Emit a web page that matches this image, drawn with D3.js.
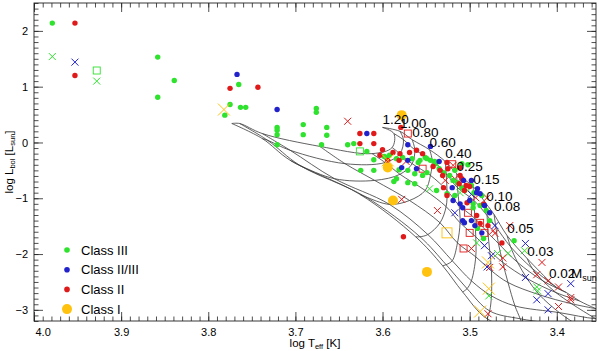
<!DOCTYPE html>
<html><head><meta charset="utf-8">
<script src="https://cdn.jsdelivr.net/npm/d3@7"></script>
<style>body{margin:0;background:#fff} text{font-family:"Liberation Sans",Arial,sans-serif;fill:#000}</style>
</head><body><svg id="c" width="600" height="351"></svg>
<script>
// ---- data ----
const xTicks = [4.0, 3.9, 3.8, 3.7, 3.6, 3.5, 3.4];
const yTicks = [-3, -2, -1, 0, 1, 2];
const massLabels = ["1.20","1.00","0.80","0.60","0.40","0.25","0.15","0.10","0.08","0.05","0.03","0.02"];
// evolutionary tracks, one row per mass, columns = isochrone ages (youngest first)
const trackTeff = [
 [3.600,3.587,3.589,3.612,3.672,3.738,3.764,3.773],
 [3.580,3.576,3.580,3.597,3.643,3.706,3.732,3.738],
 [3.566,3.563,3.566,3.580,3.609,3.655,3.695,3.706],
 [3.546,3.543,3.545,3.551,3.569,3.592,3.620,3.626],
 [3.528,3.527,3.526,3.527,3.534,3.548,3.557,3.562],
 [3.515,3.514,3.512,3.511,3.514,3.520,3.527,3.531],
 [3.496,3.495,3.494,3.493,3.493,3.498,3.503,3.508],
 [3.481,3.480,3.479,3.477,3.475,3.475,3.477,3.480],
 [3.472,3.470,3.467,3.462,3.456,3.448,3.442,3.437],
 [3.457,3.453,3.445,3.434,3.420,3.397,3.374,3.351],
 [3.434,3.428,3.416,3.401,3.383,3.355,3.328,3.305],
 [3.409,3.401,3.389,3.374,3.355,3.328,3.305,3.282]
];
const trackLum = [
 [0.27,0.16,-0.09,-0.20,-0.07,0.16,0.34,0.34],
 [0.20,0.05,-0.20,-0.36,-0.38,-0.14,0.04,0.07],
 [0.05,-0.13,-0.38,-0.57,-0.68,-0.65,-0.41,-0.32],
 [-0.13,-0.32,-0.59,-0.86,-1.04,-1.11,-0.97,-0.93],
 [-0.34,-0.56,-0.86,-1.15,-1.44,-1.65,-1.69,-1.69],
 [-0.56,-0.81,-1.13,-1.44,-1.80,-2.12,-2.19,-2.21],
 [-0.79,-1.04,-1.36,-1.69,-2.05,-2.48,-2.62,-2.68],
 [-1.10,-1.31,-1.62,-1.94,-2.30,-2.75,-3.02,-3.16],
 [-1.29,-1.51,-1.81,-2.15,-2.51,-2.93,-3.16,-3.38],
 [-1.67,-1.87,-2.15,-2.44,-2.73,-3.05,-3.30,-3.56],
 [-2.08,-2.26,-2.48,-2.69,-2.89,-3.16,-3.38,-3.56],
 [-2.48,-2.59,-2.69,-2.84,-2.98,-3.16,-3.34,-3.48]
];
// observed objects [logTeff, logL]
const class3Dot = [[3.979,2.14],[3.858,1.53],[3.839,1.11],[3.858,0.81],[3.775,0.68],[3.781,0.49],[3.765,1.04],[3.763,0.63],[3.757,0.63],[3.721,0.27],[3.721,0.22],[3.721,0.14],[3.721,-0.04],[3.676,0.61],[3.676,0.54],[3.691,0.32],[3.691,0.14],[3.664,0.27],[3.664,0.13],[3.670,-0.04],[3.640,-0.04],[3.633,-0.02],[3.618,-0.16],[3.610,-0.31],[3.625,-0.50],[3.610,-0.50],[3.598,-0.25],[3.587,-0.70],[3.596,-0.27],[3.577,-0.27],[3.566,-0.29],[3.557,-0.32],[3.551,-0.27],[3.545,-0.32],[3.539,-0.38],[3.530,-0.54],[3.523,-0.59],[3.514,-0.72],[3.509,-0.81],[3.495,-0.90],[3.486,-0.95],[3.581,-0.49],[3.571,-0.50],[3.563,-0.56],[3.549,-0.54],[3.554,-0.59],[3.538,-0.86],[3.535,-0.47],[3.526,-0.92],[3.519,-0.68],[3.584,-0.29],[3.592,-0.23],[3.595,-0.45],[3.563,-0.74],[3.571,-0.72],[3.549,-0.29],[3.559,-0.36],[3.540,-0.34],[3.584,-0.65],[3.517,-0.50],[3.502,-0.40],[3.509,-0.38],[3.498,-0.77],[3.517,-0.95],[3.496,-1.10],[3.496,-1.17],[3.449,-1.76],[3.488,-1.13],[3.481,-1.22],[3.477,-1.40],[3.491,-1.54],[3.484,-1.72]];
const class3X = [[3.979,1.54],[3.928,1.10],[3.502,-0.86],[3.511,-0.90],[3.546,-0.83],[3.492,-1.80],[3.437,-1.94],[3.468,-1.99],[3.456,-1.99],[3.423,-2.59],[3.422,-2.66],[3.478,-2.75]];
const class3Sq = [[3.928,1.29],[3.626,-0.16]];
const class23Dot = [[3.767,1.22],[3.721,0.59],[3.618,0.16],[3.571,-0.04],[3.545,-0.07],[3.535,-0.34],[3.571,-0.32],[3.578,-0.45],[3.561,-0.47],[3.520,-0.81],[3.507,-0.68],[3.491,-0.83],[3.498,-0.68],[3.492,-0.90],[3.488,-0.92],[3.519,-1.04],[3.511,-1.10],[3.508,-1.17],[3.508,-1.40],[3.498,-1.40],[3.506,-1.44],[3.483,-1.13],[3.477,-1.26],[3.494,-1.49],[3.486,-1.62],[3.500,-1.04]];
const class23X = [[3.953,1.44],[3.517,-1.26],[3.483,-1.85],[3.475,-2.03],[3.480,-2.23],[3.436,-1.81],[3.436,-2.42],[3.423,-2.82],[3.410,-2.71],[3.410,-3.00],[3.384,-2.53],[3.498,-0.93],[3.471,-1.49]];
const class2Dot = [[3.953,2.14],[3.953,1.20],[3.775,0.97],[3.743,0.99],[3.579,0.27],[3.626,0.16],[3.610,0.16],[3.626,-0.02],[3.610,-0.02],[3.600,-0.13],[3.588,-0.18],[3.580,-0.20],[3.569,-0.18],[3.561,-0.14],[3.554,-0.20],[3.603,-0.23],[3.594,-0.32],[3.581,-0.32],[3.542,-0.43],[3.534,-0.50],[3.525,-0.47],[3.511,-0.59],[3.504,-0.77],[3.500,-0.79],[3.531,-0.59],[3.530,-0.81],[3.512,-0.74],[3.526,-0.36],[3.511,-0.45],[3.509,-0.65],[3.506,-0.86],[3.526,-0.95],[3.503,-1.08],[3.492,-1.31],[3.488,-1.45],[3.484,-1.10],[3.576,-1.69],[3.463,-1.80],[3.479,-1.49]];
const class2X = [[3.640,0.38],[3.578,-1.02],[3.537,-1.22],[3.519,-0.41],[3.517,-0.65],[3.528,-0.68],[3.503,-0.77],[3.493,-0.99],[3.480,-0.99],[3.473,-1.58],[3.454,-1.49],[3.498,-1.90],[3.477,-2.24],[3.471,-1.63],[3.462,-2.07],[3.462,-2.23],[3.417,-2.15],[3.423,-2.37],[3.410,-2.48],[3.398,-2.59],[3.398,-2.94],[3.384,-2.78],[3.384,-2.82],[3.479,-3.07],[3.573,-0.34]];
const class2Sq = [[3.571,0.16],[3.520,-0.39],[3.554,-0.47],[3.502,-1.26],[3.500,-1.62],[3.507,-1.90],[3.483,-1.62],[3.488,-1.44]];
const class1Dot = [[3.578,0.49],[3.594,-0.45],[3.588,-1.04],[3.549,-2.32]];
const class1X = [[3.782,0.59],[3.594,-0.32],[3.479,-2.15],[3.478,-2.62],[3.488,-3.03]];
const class1Sq = [[3.526,-1.62]];
const legendLabels = ["Class III","Class II/III","Class II","Class I"];

// ---- chart ----
const W=600,H=351, L=34, R=596, T=3, B=321;
const svg = d3.select("#c");
const x = d3.scaleLinear().domain([4.0, 3.355]).range([L, R]);
const y = d3.scaleLinear().domain([-3.2, 2.5]).range([B, T]);
const colors = {III:"#2ee22e", II3:"#2222cc", II:"#e01a1a", I:"#ffc20e"};

svg.append("defs").append("clipPath").attr("id","clip")
  .append("rect").attr("x",L).attr("y",T).attr("width",R-L).attr("height",B-T);
const plot = svg.append("g").attr("clip-path","url(#clip)");

const line = d3.line().x(d=>x(d[0])).y(d=>y(d[1]));
const nAges = trackTeff[0].length;
// tracks
trackTeff.forEach((row,i)=>{
  const pts = row.map((t,k)=>[t, trackLum[i][k]]);
  plot.append("path").attr("d", line.curve(d3.curveCatmullRom)(pts))
    .attr("fill","none").attr("stroke","#3a3a3a").attr("stroke-width",0.8);
});
// isochrones
for(let k=0;k<nAges;k++){
  const pts = trackTeff.map((row,i)=>[row[k], trackLum[i][k]]);
  plot.append("path").attr("d", line.curve(d3.curveCatmullRom)(pts))
    .attr("fill","none").attr("stroke","#3a3a3a").attr("stroke-width",0.8);
}

function dots(data,col,r){
  plot.append("g").selectAll("circle").data(data).join("circle")
    .attr("cx",d=>x(d[0])).attr("cy",d=>y(d[1])).attr("r",r).attr("fill",col);
}
function crosses(data,col,s,w){
  plot.append("g").selectAll("path").data(data).join("path")
    .attr("d",d=>{const cx=x(d[0]),cy=y(d[1]);return `M${cx-s},${cy-s}L${cx+s},${cy+s}M${cx-s},${cy+s}L${cx+s},${cy-s}`;})
    .attr("stroke",col).attr("stroke-width",w).attr("fill","none");
}
function squares(data,col,s){
  plot.append("g").selectAll("rect").data(data).join("rect")
    .attr("x",d=>x(d[0])-s).attr("y",d=>y(d[1])-s).attr("width",2*s).attr("height",2*s)
    .attr("stroke",col).attr("stroke-width",0.9).attr("fill","none");
}
crosses(class3X,colors.III,3.5,1); squares(class3Sq,colors.III,3.5);
crosses(class2X,colors.II,3.5,1); squares(class2Sq,colors.II,3.5);
crosses(class23X,colors.II3,3.5,1);
dots(class3Dot,colors.III,2.7);
dots(class2Dot,colors.II,2.7);
dots(class23Dot,colors.II3,2.7);
crosses(class1X,colors.I,6,1); squares(class1Sq,colors.I,5);
dots(class1Dot,colors.I,5);

// mass labels
const lab = svg.append("g").attr("font-size",13.5);
massLabels.forEach((m,i)=>{
  lab.append("text").attr("x",x(trackTeff[i][0])).attr("y",y(trackLum[i][0])-3).text(m);
});
const last = massLabels.length-1;
const ms = lab.append("text").attr("x",x(trackTeff[last][0])+22).attr("y",y(trackLum[last][0])-3);
ms.append("tspan").text("M");
ms.append("tspan").attr("font-size",9).attr("dy",3).text("sun");

// axes
const fx = d3.format(".1f"), fy = d3.format("d");
const xMinor = d3.range(336,401).map(v=>v/100);
const yMinor = d3.range(-32,26).map(v=>v/10);
function drawAxis(axisFn, scale, vals, minorVals, pos, fmt, showLabels){
  const gMin = svg.append("g").attr("transform",pos)
    .call(axisFn(scale).tickValues(minorVals).tickSize(-4.5).tickFormat(""));
  const gMaj = svg.append("g").attr("transform",pos)
    .call(axisFn(scale).tickValues(vals).tickSize(-9).tickPadding(showLabels?5:0).tickFormat(showLabels?fmt:""));
  [gMin,gMaj].forEach(g=>{g.select(".domain").remove(); g.selectAll("line").attr("stroke","#222").attr("stroke-width",0.8);});
  gMaj.selectAll("text").attr("font-size",11).attr("font-family","Liberation Sans, Arial, sans-serif").attr("fill","#000");
  return gMaj;
}
const gx = drawAxis(d3.axisBottom, x, xTicks, xMinor, `translate(0,${B})`, fx, true);
gx.selectAll("text").attr("dy","0.9em");
gx.selectAll(".tick").filter(d=>d===4.0).select("text").attr("text-anchor","start").attr("dx",1);
drawAxis(d3.axisTop, x, xTicks, xMinor, `translate(0,${T})`, fx, false);
const gy = drawAxis(d3.axisLeft, y, yTicks, yMinor, `translate(${L},0)`, fy, true);
gy.selectAll("text").attr("dx",-1);
drawAxis(d3.axisRight, y, yTicks, yMinor, `translate(${R},0)`, fy, false);
svg.append("rect").attr("x",L).attr("y",T).attr("width",R-L).attr("height",B-T)
  .attr("fill","none").attr("stroke","#222").attr("stroke-width",0.9);

// axis titles
const xt = svg.append("text").attr("x",(L+R)/2).attr("y",347).attr("text-anchor","middle").attr("font-size",11.5);
xt.append("tspan").text("log T");
xt.append("tspan").attr("font-size",7.5).attr("dy",2).text("eff");
xt.append("tspan").attr("dy",-2).text(" [K]");
const yt = svg.append("text").attr("transform",`translate(13,${(T+B)/2}) rotate(-90)`).attr("text-anchor","middle").attr("font-size",11.5);
yt.append("tspan").text("log L");
yt.append("tspan").attr("font-size",7.5).attr("dy",2).text("bol");
yt.append("tspan").attr("dy",-2).text(" [L");
yt.append("tspan").attr("font-size",7.5).attr("dy",2).text("sun");
yt.append("tspan").attr("dy",-2).text("]");

// legend
const legCols = [colors.III, colors.II3, colors.II, colors.I];
const leg = svg.append("g");
legendLabels.forEach((t,i)=>{
  const cy = 250 + i*19.7;
  leg.append("circle").attr("cx",67).attr("cy",cy).attr("r", i===3?5:2.8).attr("fill",legCols[i]);
  leg.append("text").attr("x",81).attr("y",cy+4.6).attr("font-size",13).text(t);
});
</script></body></html>
